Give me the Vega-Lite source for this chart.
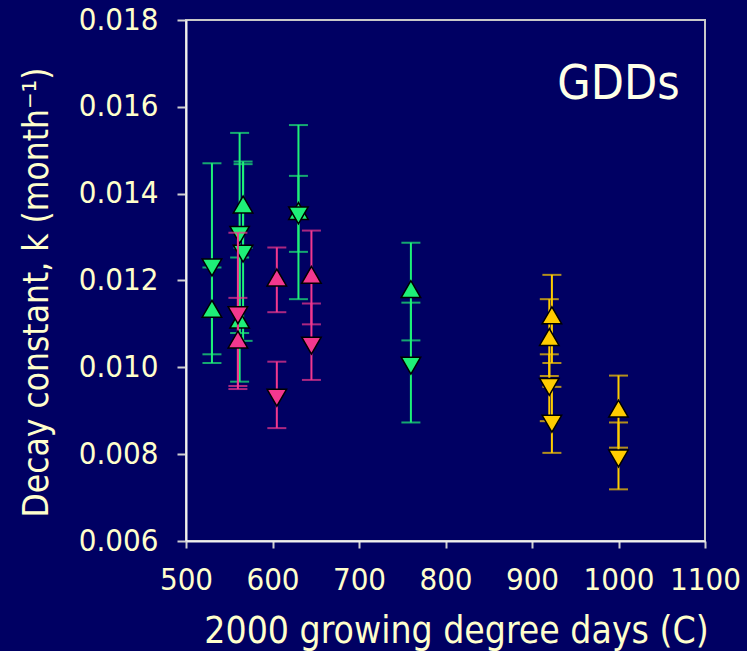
{
  "$schema": "https://vega.github.io/schema/vega-lite/v6.json",
  "width": 519,
  "height": 521,
  "autosize": {"type": "none"},
  "padding": {"left": 186, "top": 20, "right": 42, "bottom": 110},
  "background": "#000063",
  "config": {
    "view": {"stroke": "#C8C8C8", "strokeWidth": 2},
    "font": "DejaVu Sans Condensed",
    "axis": {
      "labelColor": "#FFFFCC",
      "titleColor": "#FFFFCC",
      "labelFont": "DejaVu Sans Condensed",
      "titleFont": "DejaVu Sans Condensed",
      "labelFontSize": 31,
      "titleFontWeight": "normal",
      "domainColor": "#F0F0F0",
      "domainWidth": 2,
      "tickColor": "#D0D0D0",
      "tickWidth": 2,
      "grid": false,
      "labelOverlap": false,
      "labelFlush": false
    },
    "axisX": {"tickSize": 7, "labelPadding": 17, "titleFontSize": 37, "titleX": 270, "titleY": 101, "titleBaseline": "alphabetic", "titleAlign": "center"},
    "axisY": {"tickSize": 9, "labelPadding": 19, "titleFontSize": 35, "titleX": -139, "titleY": 272, "titleAngle": -90, "titleBaseline": "alphabetic", "titleAlign": "center"}
  },
  "datasets": {
    "pts": [
      {"gdd": 530, "k": 0.01135, "lo": 0.0103, "hi": 0.0123, "s": "A", "m": "up"},
      {"gdd": 530, "k": 0.0123, "lo": 0.0101, "hi": 0.0147, "s": "A", "m": "down"},
      {"gdd": 562, "k": 0.0111, "lo": 0.00967, "hi": 0.01253, "s": "A", "m": "up"},
      {"gdd": 566, "k": 0.01375, "lo": 0.01275, "hi": 0.01474, "s": "A", "m": "up"},
      {"gdd": 630, "k": 0.0136, "lo": 0.01266, "hi": 0.01441, "s": "A", "m": "up"},
      {"gdd": 760, "k": 0.0118, "lo": 0.01062, "hi": 0.01287, "s": "A", "m": "up"},
      {"gdd": 562, "k": 0.01305, "lo": 0.01079, "hi": 0.0154, "s": "A", "m": "down"},
      {"gdd": 566, "k": 0.01262, "lo": 0.01061, "hi": 0.01468, "s": "A", "m": "down"},
      {"gdd": 630, "k": 0.0135, "lo": 0.01157, "hi": 0.01558, "s": "A", "m": "down"},
      {"gdd": 760, "k": 0.01004, "lo": 0.00873, "hi": 0.01149, "s": "A", "m": "down"},
      {"gdd": 560, "k": 0.01064, "lo": 0.00957, "hi": 0.0116, "s": "B", "m": "up"},
      {"gdd": 605, "k": 0.01207, "lo": 0.01127, "hi": 0.01276, "s": "B", "m": "up"},
      {"gdd": 645, "k": 0.01213, "lo": 0.01099, "hi": 0.01315, "s": "B", "m": "up"},
      {"gdd": 560, "k": 0.0112, "lo": 0.0095, "hi": 0.0131, "s": "B", "m": "down"},
      {"gdd": 605, "k": 0.0093, "lo": 0.0086, "hi": 0.01013, "s": "B", "m": "down"},
      {"gdd": 645, "k": 0.0105, "lo": 0.00971, "hi": 0.01147, "s": "B", "m": "down"},
      {"gdd": 920, "k": 0.0107, "lo": 0.0098, "hi": 0.01157, "s": "C", "m": "up"},
      {"gdd": 923, "k": 0.0112, "lo": 0.0101, "hi": 0.01213, "s": "C", "m": "up"},
      {"gdd": 1000, "k": 0.00905, "lo": 0.00815, "hi": 0.00981, "s": "C", "m": "up"},
      {"gdd": 920, "k": 0.00955, "lo": 0.00876, "hi": 0.0103, "s": "C", "m": "down"},
      {"gdd": 923, "k": 0.0087, "lo": 0.00803, "hi": 0.00955, "s": "C", "m": "down"},
      {"gdd": 1000, "k": 0.0079, "lo": 0.00719, "hi": 0.00873, "s": "C", "m": "down"}
    ],
    "note": [
      {"gdd": 1000, "k": 0.01618, "label": "GDDs"}
    ]
  },
  "encoding": {
    "x": {
      "field": "gdd",
      "type": "quantitative",
      "scale": {"domain": [500, 1100], "nice": false, "zero": false},
      "title": "2000 growing degree days (C)",
      "axis": {"tickCount": 6, "format": "d"}
    }
  },
  "layer": [
    {
      "data": {"name": "pts"},
      "transform": [{"filter": "datum.s == 'A'"}],
      "layer": [
        {"mark": {"type": "rule", "strokeWidth": 2},
         "encoding": {
           "y": {"field": "lo", "type": "quantitative", "scale": {"domain": [0.006, 0.018], "nice": false, "zero": false}, "title": "Decay constant, k (month⁻¹)", "axis": {"format": ".3f", "tickCount": 6}},
           "y2": {"field": "hi"},
           "color": {"field": "s", "type": "nominal", "scale": {"domain": ["A", "B", "C"], "range": ["#1EF078", "#F2388F", "#FFCC00"]}, "legend": null}}},
        {"mark": {"type": "tick", "orient": "horizontal", "size": 19, "thickness": 2},
         "encoding": {
           "y": {"field": "lo", "type": "quantitative", "title": "Decay constant, k (month⁻¹)", "axis": {"format": ".3f", "tickCount": 6}},
           "color": {"field": "s", "type": "nominal", "legend": null}}},
        {"mark": {"type": "tick", "orient": "horizontal", "size": 19, "thickness": 2},
         "encoding": {
           "y": {"field": "hi", "type": "quantitative", "title": "Decay constant, k (month⁻¹)", "axis": {"format": ".3f", "tickCount": 6}},
           "color": {"field": "s", "type": "nominal", "legend": null}}},
        {"mark": {"type": "point", "filled": true, "size": 380, "stroke": "black", "strokeWidth": 1.5, "opacity": 1},
         "encoding": {
           "y": {"field": "k", "type": "quantitative", "title": "Decay constant, k (month⁻¹)", "axis": {"format": ".3f", "tickCount": 6}},
           "fill": {"field": "s", "type": "nominal", "scale": {"domain": ["A", "B", "C"], "range": ["#1EF078", "#F2388F", "#FFCC00"]}, "legend": null},
           "shape": {"field": "m", "type": "nominal", "scale": {"domain": ["up", "down"], "range": ["triangle-up", "triangle-down"]}, "legend": null}}}
      ]
    },
    {
      "data": {"name": "pts"},
      "transform": [{"filter": "datum.s == 'B'"}],
      "layer": [
        {"mark": {"type": "rule", "strokeWidth": 2},
         "encoding": {
           "y": {"field": "lo", "type": "quantitative", "title": "Decay constant, k (month⁻¹)", "axis": {"format": ".3f", "tickCount": 6}},
           "y2": {"field": "hi"},
           "color": {"field": "s", "type": "nominal", "legend": null}}},
        {"mark": {"type": "tick", "orient": "horizontal", "size": 19, "thickness": 2},
         "encoding": {
           "y": {"field": "lo", "type": "quantitative", "title": "Decay constant, k (month⁻¹)", "axis": {"format": ".3f", "tickCount": 6}},
           "color": {"field": "s", "type": "nominal", "legend": null}}},
        {"mark": {"type": "tick", "orient": "horizontal", "size": 19, "thickness": 2},
         "encoding": {
           "y": {"field": "hi", "type": "quantitative", "title": "Decay constant, k (month⁻¹)", "axis": {"format": ".3f", "tickCount": 6}},
           "color": {"field": "s", "type": "nominal", "legend": null}}},
        {"mark": {"type": "point", "filled": true, "size": 380, "stroke": "black", "strokeWidth": 1.5, "opacity": 1},
         "encoding": {
           "y": {"field": "k", "type": "quantitative", "title": "Decay constant, k (month⁻¹)", "axis": {"format": ".3f", "tickCount": 6}},
           "fill": {"field": "s", "type": "nominal", "legend": null},
           "shape": {"field": "m", "type": "nominal", "legend": null}}}
      ]
    },
    {
      "data": {"name": "pts"},
      "transform": [{"filter": "datum.s == 'C'"}],
      "layer": [
        {"mark": {"type": "rule", "strokeWidth": 2},
         "encoding": {
           "y": {"field": "lo", "type": "quantitative", "title": "Decay constant, k (month⁻¹)", "axis": {"format": ".3f", "tickCount": 6}},
           "y2": {"field": "hi"},
           "color": {"field": "s", "type": "nominal", "legend": null}}},
        {"mark": {"type": "tick", "orient": "horizontal", "size": 19, "thickness": 2},
         "encoding": {
           "y": {"field": "lo", "type": "quantitative", "title": "Decay constant, k (month⁻¹)", "axis": {"format": ".3f", "tickCount": 6}},
           "color": {"field": "s", "type": "nominal", "legend": null}}},
        {"mark": {"type": "tick", "orient": "horizontal", "size": 19, "thickness": 2},
         "encoding": {
           "y": {"field": "hi", "type": "quantitative", "title": "Decay constant, k (month⁻¹)", "axis": {"format": ".3f", "tickCount": 6}},
           "color": {"field": "s", "type": "nominal", "legend": null}}},
        {"mark": {"type": "point", "filled": true, "size": 380, "stroke": "black", "strokeWidth": 1.5, "opacity": 1},
         "encoding": {
           "y": {"field": "k", "type": "quantitative", "title": "Decay constant, k (month⁻¹)", "axis": {"format": ".3f", "tickCount": 6}},
           "fill": {"field": "s", "type": "nominal", "legend": null},
           "shape": {"field": "m", "type": "nominal", "legend": null}}}
      ]
    },
    {
      "data": {"name": "note"},
      "mark": {"type": "text", "font": "DejaVu Sans Condensed", "fontSize": 48, "color": "#FFFFE8", "align": "center", "baseline": "alphabetic"},
      "encoding": {
        "y": {"field": "k", "type": "quantitative", "title": "Decay constant, k (month⁻¹)", "axis": {"format": ".3f", "tickCount": 6}},
        "text": {"field": "label"}
      }
    }
  ]
}
